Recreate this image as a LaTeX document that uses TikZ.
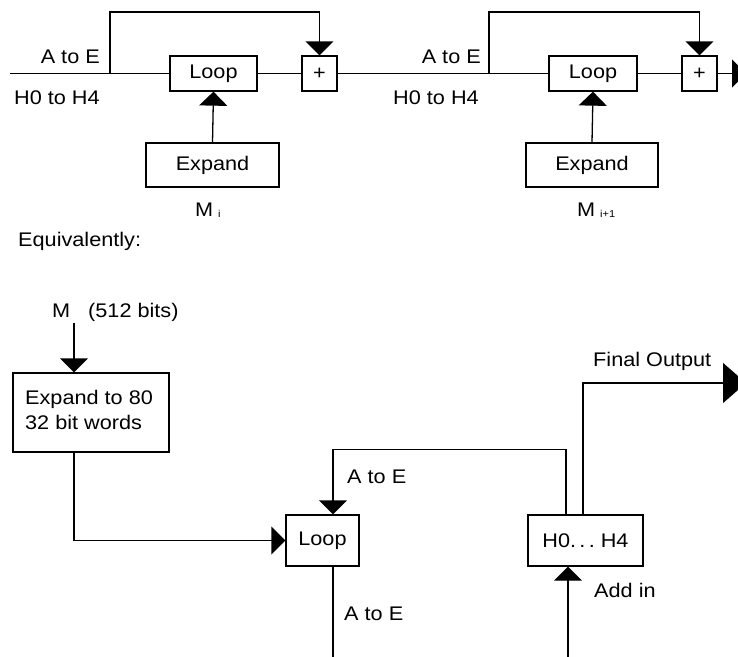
\documentclass[tikz,border=0pt]{standalone}
\usepackage{fontspec}
\setmainfont{Liberation Sans}[FakeStretch=1.1]
\usetikzlibrary{arrows.meta}
\begin{document}
\begin{tikzpicture}[x=1pt,y=-1pt,
  every node/.style={inner sep=0pt,font=\fontsize{19.7}{24}\selectfont},
  box/.style={draw,line width=1.3pt},
  lbl/.style={anchor=base west},
  lblr/.style={anchor=base east},
  sub/.style={anchor=base west,font=\fontsize{10}{12}\selectfont},
  conn/.style={line width=1.3pt},
  arr/.style={line width=1.3pt,-{Triangle[length=14pt,width=28pt]}},
  bigarr/.style={line width=1.3pt,-{Triangle[length=23pt,width=40pt]}}]
\useasboundingbox (0,0) rectangle (738,656);
\clip (0,0) rectangle (738,656);

% ---- top: two rounds ----
\node[box,minimum width=87pt,minimum height=35pt] (loop1) at (213.5,73.5) {Loop};
\node[box,minimum width=35pt,minimum height=35pt] (plus1) at (319.5,73.5) {+};
\node[box,minimum width=88pt,minimum height=35pt] (loop2) at (593,73.5) {Loop};
\node[box,minimum width=35pt,minimum height=35pt] (plus2) at (699.5,73.5) {+};
\node[box,minimum width=133pt,minimum height=44pt] (exp1) at (212.5,165) {Expand};
\node[box,minimum width=132pt,minimum height=44pt] (exp2) at (592,165) {Expand};

\coordinate (in1) at (10,73.5);
\coordinate (b1) at (110,73.5);
\coordinate (b2) at (489,73.5);
\coordinate (out1) at (746,73.5);

\draw[conn] (in1) -- (loop1.west);
\draw[arr] (b1) -- ++(0,-61.5) -| (plus1.north);
\draw[conn] (loop1.east) -- (plus1.west);
\draw[conn] (plus1.east) -- (loop2.west);
\draw[arr] (b2) -- ++(0,-61.5) -| (plus2.north);
\draw[conn] (loop2.east) -- (plus2.west);
\draw[arr] (plus2.east) -- (out1);
\draw[arr] (exp1.north) -- (loop1.south);
\draw[arr] (exp2.north) -- (loop2.south);

\node[lblr] (ae1) at (100,63) {A to E};
\node[lbl] (hh1) at (14,104) {H0 to H4};
\node[lblr] (ae2) at (481,63) {A to E};
\node[lbl] (hh2) at (393,104) {H0 to H4};
\node[lbl] (mi) at (195,216) {M};
\node[sub] (mis) at (218,217) {i};
\node[lbl] (mi1) at (577,216) {M};
\node[sub] (mi1s) at (600,217) {i+1};

\node[lbl] (eq) at (18,246) {Equivalently:};

% ---- bottom: equivalent view ----
\node[lbl] (m) at (52,317) {M};
\node[lbl] (mbits) at (88,317) {(512 bits)};
\node[box,minimum width=156pt,minimum height=79pt] (big) at (91,412.5) {};
\node[lbl] (bigt1) at (25,404) {Expand to 80};
\node[lbl] (bigt2) at (25,429) {32 bit words};
\node[box,minimum width=73pt,minimum height=51pt] (loop3) at (322.5,540.5) {Loop};
\node[box,minimum width=115pt,minimum height=51pt] (hbox) at (585.5,540.5) {H0.\,.\,.\ H4};

\coordinate (mtop) at (74,323);
\coordinate (addsrc) at (568,660);
\coordinate (finalout) at (746,383);

\draw[arr] (mtop) -- (mtop |- big.north);
\draw[arr] (big.south -| mtop) |- (loop3.west);
\draw[arr] ([xshift=-19.5pt]hbox.north) -- ++(0,-65) -| ([xshift=10.5pt]loop3.north);
\draw[conn] ([xshift=10.5pt]loop3.south) -- ++(0,95);
\draw[bigarr] ([xshift=-2.5pt]hbox.north) |- (finalout);
\draw[arr] (addsrc) -- (addsrc |- hbox.south);

\node[lbl] (ae3) at (347,483) {A to E};
\node[lbl] (ae4) at (344,620) {A to E};
\node[lbl] (fo) at (593,366) {Final Output};
\node[lbl] (addin) at (594,597) {Add in};
\end{tikzpicture}
\end{document}
